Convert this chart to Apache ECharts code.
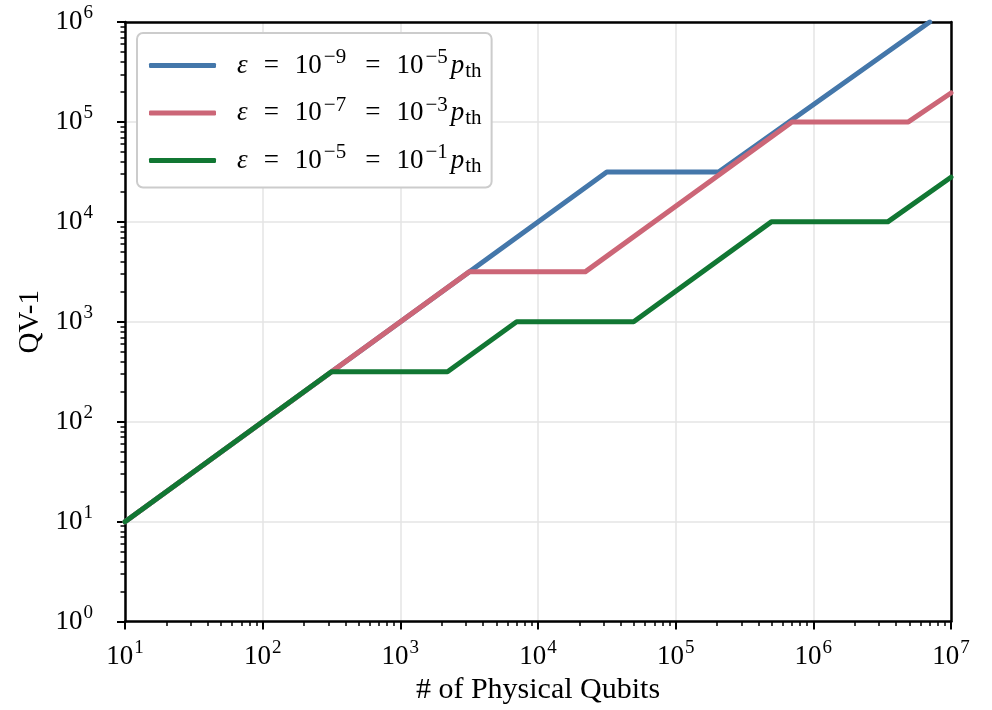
<!DOCTYPE html>
<html>
<head>
<meta charset="utf-8">
<script src="https://cdn.jsdelivr.net/npm/echarts@6/dist/echarts.min.js"></script>
<style>
  html, body { margin: 0; padding: 0; background: #fff; }
  #chart { width: 992px; height: 710px; }
</style>
</head>
<body>
<div id="chart"></div>
<script>
// series values: [physical qubits, QV-1]
const blueData = [[10, 10], [31600, 31600], [205000, 31600], [7000000, 1000000]];
const redData = [[10, 10], [3160, 3160], [22000, 3160], [700000, 100000], [4900000, 100000], [10000000, 195000]];
const greenData = [[10, 10], [316, 316], [2200, 316], [7000, 1000], [49500, 1000], [495000, 10000], [3470000, 10000], [10000000, 28000]];

const epsExp = ["\u22129", "\u22127", "\u22125"];
const pthExp = ["\u22125", "\u22123", "\u22121"];
const seriesNames = ["eps9", "eps7", "eps5"];
const colors = ["#4477aa", "#cc6677", "#117733"];

// minor tick positions (in decades) for the 2..9 marks
const xMinorTicks = [];
for (let e = 1; e < 7; e++) for (let k = 2; k < 10; k++) xMinorTicks.push(e + Math.log10(k));
const yMinorTicks = [];
for (let e = 0; e < 6; e++) for (let k = 2; k < 10; k++) yMinorTicks.push(e + Math.log10(k));

const FONT = "Liberation Serif";
const powRich = {
  base: { fontFamily: FONT, fontSize: 27, color: "#000" },
  sup: { fontFamily: FONT, fontSize: 19, color: "#000", padding: [0, 0, 17, 1] }
};
const powLabel = (v) => "{base|10}{sup|" + Math.round(Math.log10(v)) + "}";

const chart = echarts.init(document.getElementById("chart"), null, { renderer: "canvas" });

const frameAxis = (pos) => ({
  type: "value", min: 0, max: 1, position: pos,
  axisLine: { show: true, onZero: false, lineStyle: { color: "#000", width: 2.5 } },
  axisTick: { show: false }, axisLabel: { show: false }, splitLine: { show: false }
});

const option = {
  animation: false,
  backgroundColor: "#fff",
  grid: { left: 125, right: 41, top: 22, bottom: 88 },
  legend: {
    orient: "vertical",
    left: 137, top: 33,
    data: seriesNames,
    icon: "roundRect",
    itemWidth: 67, itemHeight: 5,
    itemGap: 13,
    padding: [14, 10, 11, 12],
    backgroundColor: "#fff",
    borderColor: "#cccccc", borderWidth: 2, borderRadius: 6,
    formatter: (name) => {
      const i = seriesNames.indexOf(name);
      return "{it|\u03b5}{eq|=}{m|10}{sup|" + epsExp[i] + "}{eq|=}{m|10}{sup|" + pthExp[i] + "}{it|p}{sub|th}";
    },
    textStyle: {
      padding: [0, 0, 0, 16],
      rich: {
        it: { fontFamily: FONT, fontSize: 27, fontStyle: "italic", color: "#000" },
        m: { fontFamily: FONT, fontSize: 27, color: "#000" },
        eq: { fontFamily: FONT, fontSize: 27, color: "#000", padding: [0, 16, 0, 16] },
        sup: { fontFamily: FONT, fontSize: 21, color: "#000", padding: [0, 3, 16, 2] },
        sub: { fontFamily: FONT, fontSize: 21, color: "#000", padding: [11, 0, 0, 1] }
      }
    }
  },
  xAxis: [
    {
      type: "log", logBase: 10, min: 10, max: 10000000,
      name: "# of Physical Qubits", nameLocation: "middle", nameGap: 52,
      nameTextStyle: { fontFamily: FONT, fontSize: 30, color: "#000" },
      axisLine: { show: true, lineStyle: { color: "#000", width: 2.5 } },
      axisTick: { show: true, length: 8, lineStyle: { color: "#000", width: 2 } },
      axisLabel: { formatter: powLabel, rich: powRich, margin: 17 },
      splitLine: { show: true, lineStyle: { color: "#e4e4e4", width: 1.5 } }
    },
    {
      type: "value", min: 1, max: 7, position: "bottom",
      axisLine: { show: false },
      axisLabel: { show: false },
      splitLine: { show: false },
      axisTick: { show: true, length: 4.5, customValues: xMinorTicks, lineStyle: { color: "#000", width: 1.5 } }
    },
    frameAxis("top")
  ],
  yAxis: [
    {
      type: "log", logBase: 10, min: 1, max: 1000000,
      name: "QV-1", nameLocation: "middle", nameGap: 64,
      nameTextStyle: { fontFamily: FONT, fontSize: 29, color: "#000" },
      axisLine: { show: true, lineStyle: { color: "#000", width: 2.5 } },
      axisTick: { show: true, length: 8, lineStyle: { color: "#000", width: 2 } },
      axisLabel: { formatter: powLabel, rich: powRich, margin: 32 },
      splitLine: { show: true, lineStyle: { color: "#e4e4e4", width: 1.5 } }
    },
    {
      type: "value", min: 0, max: 6, position: "left",
      axisLine: { show: false },
      axisLabel: { show: false },
      splitLine: { show: false },
      axisTick: { show: true, length: 4.5, customValues: yMinorTicks, lineStyle: { color: "#000", width: 1.5 } }
    },
    frameAxis("right")
  ],
  series: [blueData, redData, greenData].map((d, i) => ({
    name: seriesNames[i],
    type: "line",
    data: d,
    xAxisIndex: 0, yAxisIndex: 0,
    symbol: "none",
    clip: true,
    lineStyle: { color: colors[i], width: 5, cap: "round", join: "round" },
    itemStyle: { color: colors[i] },
    z: 3 + i
  }))
};

chart.setOption(option);
</script>
</body>
</html>
